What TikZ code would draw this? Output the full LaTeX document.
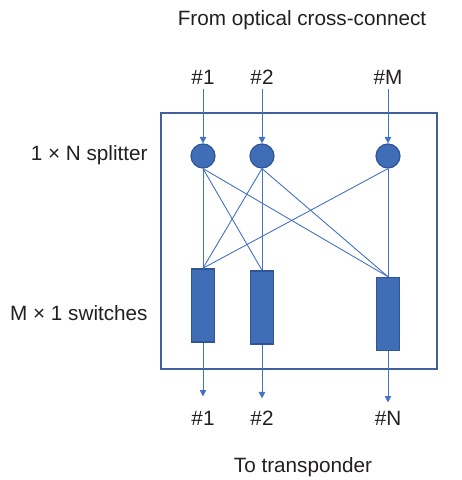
\documentclass[tikz,border=0pt]{standalone}
\usepackage{fontspec}
\setmainfont{Liberation Sans}
\usepackage{xcolor}
\usepackage{tikz}
\usetikzlibrary{positioning, arrows.meta}
\definecolor{linkblue}{HTML}{4472C4}
\definecolor{portfill}{HTML}{3F6EB6}
\definecolor{portborder}{HTML}{2F5597}
\definecolor{boxborder}{HTML}{42609A}
\definecolor{labelgray}{HTML}{231F20}

\begin{document}
\begin{tikzpicture}[x=0.5pt, y=-0.5pt,
    font=\fontsize{10.35}{12.4}\selectfont, text=labelgray,
    splitter/.style={circle, fill=portfill, draw=portborder, line width=0.6pt,
                     minimum size=12pt, inner sep=0pt},
    switchbox/.style={rectangle, fill=portfill, draw=portborder, line width=0.8pt,
                      minimum width=11.5pt, minimum height=36.5pt, inner sep=0pt},
    port/.style={inner sep=2pt},
    link/.style={draw=linkblue, line width=0.45pt},
    feed/.style={link, -{Triangle[width=3.2pt,length=3.2pt]}}]
  \useasboundingbox (0,0) rectangle (461,480);

  % enclosure
  \node[draw=boxborder, line width=1pt, minimum width=138pt, minimum height=128pt,
        inner sep=0pt] (unit) at (299,241) {};

  % captions
  \node (from) at (302,20) {From optical cross-connect};
  \node (to) at (303,467) {To transponder};
  \node[anchor=east, inner sep=0pt] (splitlbl) at (148,155) {1 × N splitter};
  \node[anchor=east, inner sep=0pt] (switchlbl) at (148,313) {M × 1 switches};

  % input ports and splitters
  \node[port] (in1) at (203,77) {\#1};
  \node[port] (in2) at (262,77) {\#2};
  \node[port] (inM) at (388,77) {\#M};
  \node[splitter] (sp1) at (203,156) {};
  \node[splitter] (sp2) at (262,156) {};
  \node[splitter] (spM) at (388,156) {};

  % switches and output ports
  \node[switchbox] (sw1) at (203,305.5) {};
  \node[switchbox] (sw2) at (262,307.5) {};
  \node[switchbox] (swN) at (388,314) {};
  \node[port] (out1) at (203,418) {\#1};
  \node[port] (out2) at (262,418) {\#2};
  \node[port] (outN) at (388,418) {\#N};

  \draw[feed] (in1) -- (sp1);
  \draw[feed] (in2) -- (sp2);
  \draw[feed] (inM) -- (spM);

  % splitter to switch mesh
  \draw[link] (sp1.south) -- (sw1.north);
  \draw[link] (sp1.south) -- (sw2.north);
  \draw[link] (sp1.south) -- (swN.north);
  \draw[link] (sp2.south) -- (sw1.north);
  \draw[link] (sp2.south) -- (sw2.north);
  \draw[link] (sp2.south) -- (swN.north);
  \draw[link] (spM.south) -- (sw1.north);
  \draw[link] (spM.south) -- (swN.north);

  \draw[feed, shorten >=5pt] (sw1) -- (out1);
  \draw[feed, shorten >=4pt] (sw2) -- (out2);
  \draw[feed, shorten >=2pt] (swN) -- (outN);
\end{tikzpicture}
\end{document}
